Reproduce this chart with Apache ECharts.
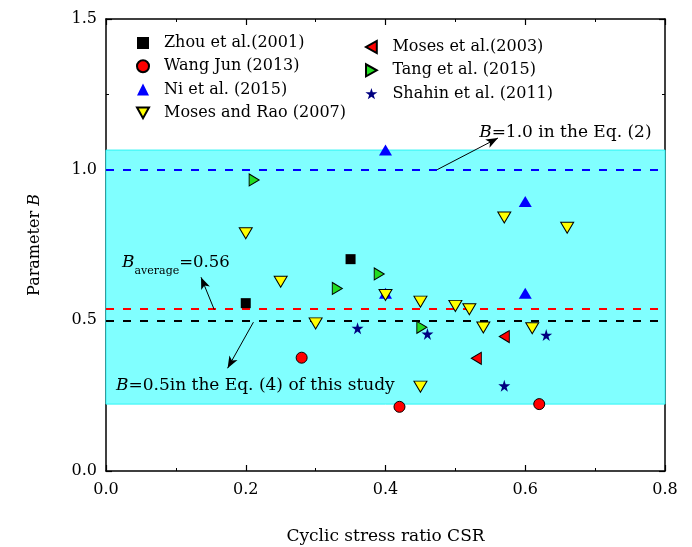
<!DOCTYPE html>
<html>
<head>
<meta charset="utf-8">
<script src="https://cdn.jsdelivr.net/npm/echarts@6/dist/echarts.min.js"></script>
<style>
  html, body { margin: 0; padding: 0; background: #fff; }
  #chart { width: 692px; height: 547px; }
</style>
</head>
<body>
<div id="chart"></div>
<script>
// ---- data ----
var zhouX = [0.20, 0.35];
var zhouY = [0.557, 0.703];
var wangX = [0.28, 0.42, 0.62];
var wangY = [0.376, 0.213, 0.222];
var niX = [0.40, 0.60, 0.60, 0.40];
var niY = [1.065, 0.894, 0.59, 0.59];
var mosesRaoX = [0.20, 0.25, 0.30, 0.40, 0.45, 0.50, 0.52, 0.54, 0.57, 0.66, 0.61, 0.45];
var mosesRaoY = [0.789, 0.628, 0.49, 0.584, 0.562, 0.548, 0.537, 0.476, 0.841, 0.807, 0.474, 0.28];
var moses03X = [0.57, 0.53];
var moses03Y = [0.446, 0.374];
var tangX = [0.212, 0.331, 0.391, 0.452];
var tangY = [0.966, 0.606, 0.654, 0.477];
var shahinX = [0.36, 0.46, 0.63, 0.57];
var shahinY = [0.474, 0.455, 0.451, 0.283];

var bandRange = [0.222, 1.065];
var refLines = [1.0, 0.535, 0.5];
var xTicks = [0, 0.2, 0.4, 0.6, 0.8];
var yTicks = [0, 0.5, 1.0, 1.5];

var FONT = 'DejaVu Serif';

function pairs(xs, ys) {
    return xs.map(function (x, i) { return [x, ys[i]]; });
}

var starPath = 'path://M50,0 L61,35 L98,35 L68,57 L79,91 L50,70 L21,91 L32,57 L2,35 L39,35 Z';
var downTri = 'path://M0,0 L10,0 L5,9 Z';
var leftTri = 'path://M9,0 L9,10 L0,5 Z';
var rightTri = 'path://M0,0 L0,10 L9,5 Z';

var chart = echarts.init(document.getElementById('chart'));

var axisCommon = {
    axisLine: { show: true, onZero: false, lineStyle: { color: '#000', width: 1.5 } },
    axisTick: { show: true, inside: true, length: 6, lineStyle: { color: '#000', width: 1.2 } },
    minorTick: { show: true, splitNumber: 2, length: 3, lineStyle: { color: '#000', width: 1 } },
    splitLine: { show: false },
    minorSplitLine: { show: false }
};

function xAxisOf(pos, showLabel) {
    return Object.assign({
        type: 'value', position: pos,
        min: xTicks[0], max: xTicks[xTicks.length - 1], interval: 0.2,
        axisLabel: {
            show: showLabel, margin: 11, color: '#000', fontFamily: FONT, fontSize: 16,
            formatter: function (v) { return v.toFixed(1); }
        }
    }, axisCommon);
}
function yAxisOf(pos, showLabel) {
    return Object.assign({
        type: 'value', position: pos,
        min: yTicks[0], max: yTicks[yTicks.length - 1], interval: 0.5,
        axisLabel: {
            show: showLabel, margin: 9, color: '#000', fontFamily: FONT, fontSize: 16,
            formatter: function (v) { return v.toFixed(1); }
        }
    }, axisCommon);
}

var xMain = xAxisOf('bottom', true);
xMain.name = 'Cyclic stress ratio CSR';
xMain.nameLocation = 'middle';
xMain.nameGap = 57;
xMain.nameTextStyle = { color: '#000', fontFamily: FONT, fontSize: 17 };

var yMain = yAxisOf('left', true);
yMain.name = '{a|Parameter }{b|B}';
yMain.nameLocation = 'middle';
yMain.nameGap = 63;
yMain.nameTextStyle = {
    rich: {
        a: { color: '#000', fontFamily: FONT, fontSize: 16 },
        b: { color: '#000', fontFamily: FONT, fontSize: 16, fontStyle: 'italic' }
    }
};

var legendText = { color: '#000', fontFamily: FONT, fontSize: 16, lineHeight: 18, padding: [0, 0, 0, 10] };

function scatter(name, xs, ys, symbol, size, color, border) {
    return {
        name: name, type: 'scatter', z: 5,
        symbol: symbol, symbolSize: size,
        data: pairs(xs, ys),
        itemStyle: { color: color, borderColor: '#000', borderWidth: border ? 1 : 0, opacity: 1 }
    };
}

var option = {
    animation: false,
    backgroundColor: '#fff',
    grid: { left: 106, right: 27, top: 19, bottom: 76, outerBoundsMode: 'none' },
    xAxis: [xMain, xAxisOf('top', false)],
    yAxis: [yMain, yAxisOf('right', false)],
    legend: [{
        data: ['Zhou et al.(2001)', 'Wang Jun (2013)', 'Ni et al. (2015)', 'Moses and Rao (2007)'],
        orient: 'vertical', left: 131, top: 29,
        itemWidth: 12, itemHeight: 12, itemGap: 5.3,
        textStyle: legendText
    }, {
        data: ['Moses et al.(2003)', 'Tang et al. (2015)', 'Shahin et al. (2011)'],
        orient: 'vertical', left: 360, top: 33,
        itemWidth: 12, itemHeight: 12, itemGap: 5.3,
        textStyle: legendText
    }],
    series: [
        {
            name: 'band', type: 'line', data: [], silent: true, z: 1,
            markArea: {
                silent: true,
                itemStyle: { color: '#80FFFF', borderColor: '#2EF5F5', borderWidth: 1 },
                data: [[{ yAxis: bandRange[0] }, { yAxis: bandRange[1] }]]
            },
            markLine: {
                silent: true, symbol: ['none', 'none'], label: { show: false },
                data: [
                    { yAxis: refLines[0], lineStyle: { color: '#0000FF', type: [8, 9], width: 2 } },
                    { yAxis: refLines[1], lineStyle: { color: '#FF0000', type: [8, 9], width: 2 } },
                    { yAxis: refLines[2], lineStyle: { color: '#000000', type: [8, 9], width: 2 } }
                ]
            }
        },
        {
            name: 'arrows', type: 'line', data: [], silent: true, z: 2,
            markLine: {
                silent: true, symbol: ['none', 'arrow'], symbolSize: [7, 12],
                label: { show: false },
                lineStyle: { color: '#000', type: 'solid', width: 1 },
                data: [
                    [{ coord: [0.474, 1.0] }, { coord: [0.561, 1.105] }],
                    [{ coord: [0.155, 0.535] }, { coord: [0.136, 0.643] }],
                    [{ coord: [0.211, 0.494] }, { coord: [0.174, 0.341] }]
                ]
            }
        },
        scatter('Zhou et al.(2001)', zhouX, zhouY, 'rect', 10, '#000000', false),
        scatter('Wang Jun (2013)', wangX, wangY, 'circle', 11, '#FF0000', true),
        scatter('Ni et al. (2015)', niX, niY, 'triangle', [13, 11], '#0000FF', false),
        scatter('Moses and Rao (2007)', mosesRaoX, mosesRaoY, downTri, [13, 11], '#FFFF00', true),
        scatter('Moses et al.(2003)', moses03X, moses03Y, leftTri, [10, 12], '#FF0000', true),
        scatter('Tang et al. (2015)', tangX, tangY, rightTri, [10, 12], '#22DD22', true),
        scatter('Shahin et al. (2011)', shahinX, shahinY, starPath, 12, '#000080', false)
    ]
};

chart.setOption(option);

// annotation text, placed at data coordinates
var annoText = { color: '#000', fontFamily: FONT, fontSize: 17 };
function rt(extra) { return Object.assign({}, annoText, extra || {}); }
function at(x, y) { return chart.convertToPixel({ gridIndex: 0 }, [x, y]); }

var p1 = at(0.534, 1.122);
var p2 = at(0.023, 0.69);
var p3 = at(0.0143, 0.285);

chart.setOption({
    graphic: [{
        type: 'text', x: p1[0], y: p1[1], z: 20,
        style: {
            text: '{i|B}{t|=1.0 in the Eq. (2)}', verticalAlign: 'middle',
            rich: { i: rt({ fontStyle: 'italic' }), t: rt() }
        }
    }, {
        type: 'text', x: p2[0], y: p2[1] - 9, z: 20,
        style: {
            text: '{i|B}{s|average}{t|=0.56}', verticalAlign: 'top',
            rich: {
                i: rt({ fontStyle: 'italic', fontSize: 17, verticalAlign: 'top', lineHeight: 18 }),
                s: rt({ fontSize: 11, verticalAlign: 'top', lineHeight: 11, padding: [12, 0, 0, 0] }),
                t: rt({ fontSize: 16.5, verticalAlign: 'top', lineHeight: 18 })
            }
        }
    }, {
        type: 'text', x: p3[0], y: p3[1], z: 20,
        style: {
            text: '{i|B}{t|=0.5in the Eq. (4) of this study}', verticalAlign: 'middle',
            rich: { i: rt({ fontStyle: 'italic' }), t: rt() }
        }
    }]
});
</script>
</body>
</html>
